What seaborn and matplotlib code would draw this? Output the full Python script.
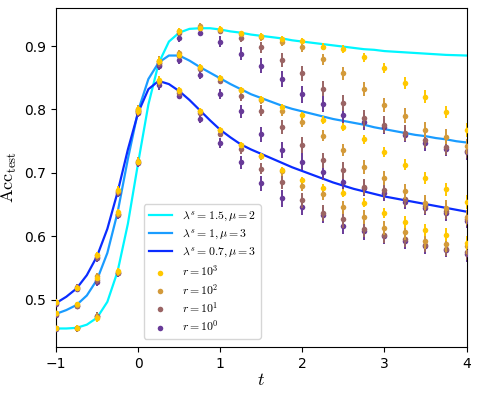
import numpy as np
import pandas as pd
import matplotlib
matplotlib.use("Agg")
import matplotlib.pyplot as plt
import seaborn as sns

plt.rcParams['mathtext.fontset'] = 'cm'
plt.rcParams['font.family'] = ['DejaVu Sans']

# --- data ---
t_pts = [-1, -0.75, -0.5, -0.25, 0, 0.25, 0.5, 0.75, 1, 1.25, 1.5, 1.75,
         2, 2.25, 2.5, 2.75, 3, 3.25, 3.5, 3.75, 4]

t_line = [-1, -0.875, -0.75, -0.625, -0.5, -0.375, -0.25, -0.125, 0, 0.125,
          0.25, 0.375, 0.5, 0.625, 0.75, 0.875, 1, 1.125, 1.25, 1.375, 1.5,
          1.625, 1.75, 1.875, 2, 2.125, 2.25, 2.375, 2.5, 2.625, 2.75, 2.875,
          3, 3.125, 3.25, 3.375, 3.5, 3.625, 3.75, 3.875, 4]

line_c = [0.455, 0.455, 0.456, 0.461, 0.472, 0.497, 0.545, 0.620, 0.716, 0.808,
          0.873, 0.907, 0.921, 0.927, 0.928, 0.928, 0.926, 0.923, 0.921, 0.918,
          0.916, 0.914, 0.912, 0.909, 0.907, 0.905, 0.903, 0.901, 0.899, 0.897,
          0.895, 0.894, 0.892, 0.891, 0.890, 0.889, 0.888, 0.887, 0.886, 0.8855, 0.885]
line_l = [0.478, 0.484, 0.492, 0.507, 0.532, 0.574, 0.638, 0.722, 0.798, 0.848,
          0.874, 0.885, 0.885, 0.877, 0.867, 0.858, 0.849, 0.840, 0.832, 0.824,
          0.818, 0.812, 0.806, 0.801, 0.797, 0.793, 0.789, 0.785, 0.782, 0.779,
          0.776, 0.772, 0.769, 0.766, 0.763, 0.760, 0.758, 0.755, 0.753, 0.750, 0.748]
line_d = [0.495, 0.505, 0.518, 0.539, 0.569, 0.612, 0.670, 0.737, 0.795, 0.832,
          0.845, 0.840, 0.829, 0.815, 0.799, 0.783, 0.768, 0.756, 0.745, 0.737,
          0.730, 0.723, 0.716, 0.709, 0.703, 0.697, 0.691, 0.685, 0.680, 0.675,
          0.671, 0.667, 0.663, 0.660, 0.657, 0.654, 0.651, 0.648, 0.645, 0.642, 0.639]

# lambda=1.5, mu=2 group
c_r3 = [0.455, 0.456, 0.471, 0.545, 0.718, 0.876, 0.923, 0.928, 0.927, 0.920, 0.916,
        0.911, 0.908, 0.899, 0.895, 0.882, 0.865, 0.842, 0.820, 0.796, 0.767]
c_r2 = [0.455, 0.456, 0.473, 0.544, 0.719, 0.877, 0.924, 0.931, 0.926, 0.919, 0.914,
        0.907, 0.898, 0.879, 0.857, 0.832, 0.807, 0.790, 0.768, 0.757, 0.742]
c_r1 = [0.455, 0.455, 0.475, 0.543, 0.717, 0.874, 0.921, 0.928, 0.924, 0.913, 0.898,
        0.878, 0.857, 0.833, 0.810, 0.786, 0.776, 0.763, 0.752, 0.741, 0.735]
c_r0 = [0.454, 0.455, 0.474, 0.542, 0.716, 0.869, 0.913, 0.921, 0.907, 0.888, 0.869,
        0.848, 0.824, 0.809, 0.791, 0.781, 0.773, 0.760, 0.747, 0.738, 0.733]

# lambda=1, mu=3 group
l_r3 = [0.479, 0.493, 0.535, 0.638, 0.800, 0.876, 0.886, 0.867, 0.850, 0.831, 0.817,
        0.804, 0.791, 0.783, 0.772, 0.753, 0.733, 0.713, 0.692, 0.674, 0.655]
l_r2 = [0.479, 0.492, 0.537, 0.636, 0.801, 0.877, 0.889, 0.866, 0.849, 0.830, 0.815,
        0.797, 0.781, 0.759, 0.736, 0.710, 0.692, 0.671, 0.653, 0.645, 0.630]
l_r1 = [0.478, 0.491, 0.531, 0.635, 0.799, 0.874, 0.884, 0.864, 0.845, 0.821, 0.798,
        0.772, 0.744, 0.720, 0.704, 0.678, 0.673, 0.659, 0.648, 0.640, 0.628]
l_r0 = [0.477, 0.490, 0.528, 0.634, 0.797, 0.870, 0.878, 0.854, 0.824, 0.797, 0.761,
        0.736, 0.718, 0.702, 0.686, 0.676, 0.668, 0.655, 0.645, 0.637, 0.625]

# lambda=0.7, mu=3 group
d_r3 = [0.497, 0.519, 0.571, 0.673, 0.797, 0.846, 0.830, 0.798, 0.768, 0.744, 0.727,
        0.705, 0.689, 0.677, 0.668, 0.653, 0.637, 0.623, 0.610, 0.603, 0.590]
d_r2 = [0.496, 0.518, 0.570, 0.672, 0.798, 0.845, 0.829, 0.797, 0.767, 0.744, 0.726,
        0.703, 0.680, 0.667, 0.646, 0.631, 0.614, 0.607, 0.593, 0.588, 0.585]
d_r1 = [0.495, 0.520, 0.568, 0.670, 0.796, 0.843, 0.826, 0.794, 0.762, 0.737, 0.707,
        0.685, 0.657, 0.637, 0.627, 0.612, 0.603, 0.596, 0.587, 0.581, 0.575]
d_r0 = [0.494, 0.517, 0.566, 0.668, 0.794, 0.838, 0.822, 0.785, 0.747, 0.717, 0.684,
        0.660, 0.646, 0.634, 0.617, 0.608, 0.600, 0.593, 0.585, 0.579, 0.572]

# error bar half-widths per r
err_r3 = [0.004, 0.004, 0.005, 0.006, 0.006, 0.006, 0.005, 0.004, 0.004, 0.004, 0.004,
          0.005, 0.005, 0.006, 0.006, 0.007, 0.008, 0.009, 0.010, 0.010, 0.011]
err_r2 = [0.004, 0.004, 0.006, 0.006, 0.006, 0.007, 0.005, 0.005, 0.004, 0.005, 0.006,
          0.007, 0.008, 0.009, 0.010, 0.011, 0.011, 0.012, 0.012, 0.012, 0.012]
err_r1 = [0.004, 0.005, 0.006, 0.006, 0.006, 0.007, 0.005, 0.005, 0.005, 0.007, 0.009,
          0.011, 0.012, 0.012, 0.013, 0.013, 0.013, 0.012, 0.012, 0.012, 0.012]
err_r0 = [0.004, 0.005, 0.006, 0.006, 0.006, 0.007, 0.006, 0.006, 0.008, 0.010, 0.012,
          0.013, 0.013, 0.013, 0.013, 0.013, 0.012, 0.012, 0.012, 0.012, 0.012]

line_labels = [r'$\lambda^s=1.5, \mu=2$', r'$\lambda^s=1, \mu=3$', r'$\lambda^s=0.7, \mu=3$']
line_colors = ['#00f6ff', '#1a9cff', '#0a2cff']
r_labels = [r'$r=10^3$', r'$r=10^2$', r'$r=10^1$', r'$r=10^0$']
r_colors = ['#ffc800', '#d39a3a', '#9a6464', '#683a98']

groups = [[c_r3, c_r2, c_r1, c_r0], [l_r3, l_r2, l_r1, l_r0], [d_r3, d_r2, d_r1, d_r0]]
errs = [err_r3, err_r2, err_r1, err_r0]

# --- plot ---
fig = plt.figure(figsize=(4.79, 3.96), dpi=100)
ax = fig.add_axes([0.117, 0.124, 0.857, 0.856])

for vals, lab, col in zip([line_c, line_l, line_d], line_labels, line_colors):
    sns.lineplot(x=t_line, y=vals, color=col, linewidth=1.6, label=lab, ax=ax, zorder=2)

# draw low r first so r=10^3 sits on top
for k in [3, 2, 1, 0]:
    for g, series in enumerate(groups):
        ax.errorbar(t_pts, series[k], yerr=errs[k], fmt='none', ecolor=r_colors[k],
                    elinewidth=1.4, capsize=0, zorder=3 + (3 - k))
        sns.scatterplot(x=t_pts, y=series[k], color=r_colors[k], s=16, linewidth=0,
                        label=r_labels[k] if g == 0 else None, ax=ax, zorder=3 + (3 - k))

ax.set_xlim(-1, 4)
ax.set_ylim(0.426, 0.96)
ax.set_xticks([-1, 0, 1, 2, 3, 4])
ax.set_yticks([0.5, 0.6, 0.7, 0.8, 0.9])
ax.set_xlabel(r'$t$', fontsize=13, labelpad=0)
ax.set_ylabel(r'$\mathrm{Acc}_{\mathrm{test}}$', fontsize=13)

handles, labels = ax.get_legend_handles_labels()
order = line_labels + r_labels
hmap = dict(zip(labels, handles))
ax.legend([hmap[l] for l in order], order, loc='lower left',
          bbox_to_anchor=(0.214, 0.024), borderaxespad=0, fontsize=8.5, scatterpoints=1,
          labelspacing=0.3)

fig.savefig('out.png', dpi=100)
